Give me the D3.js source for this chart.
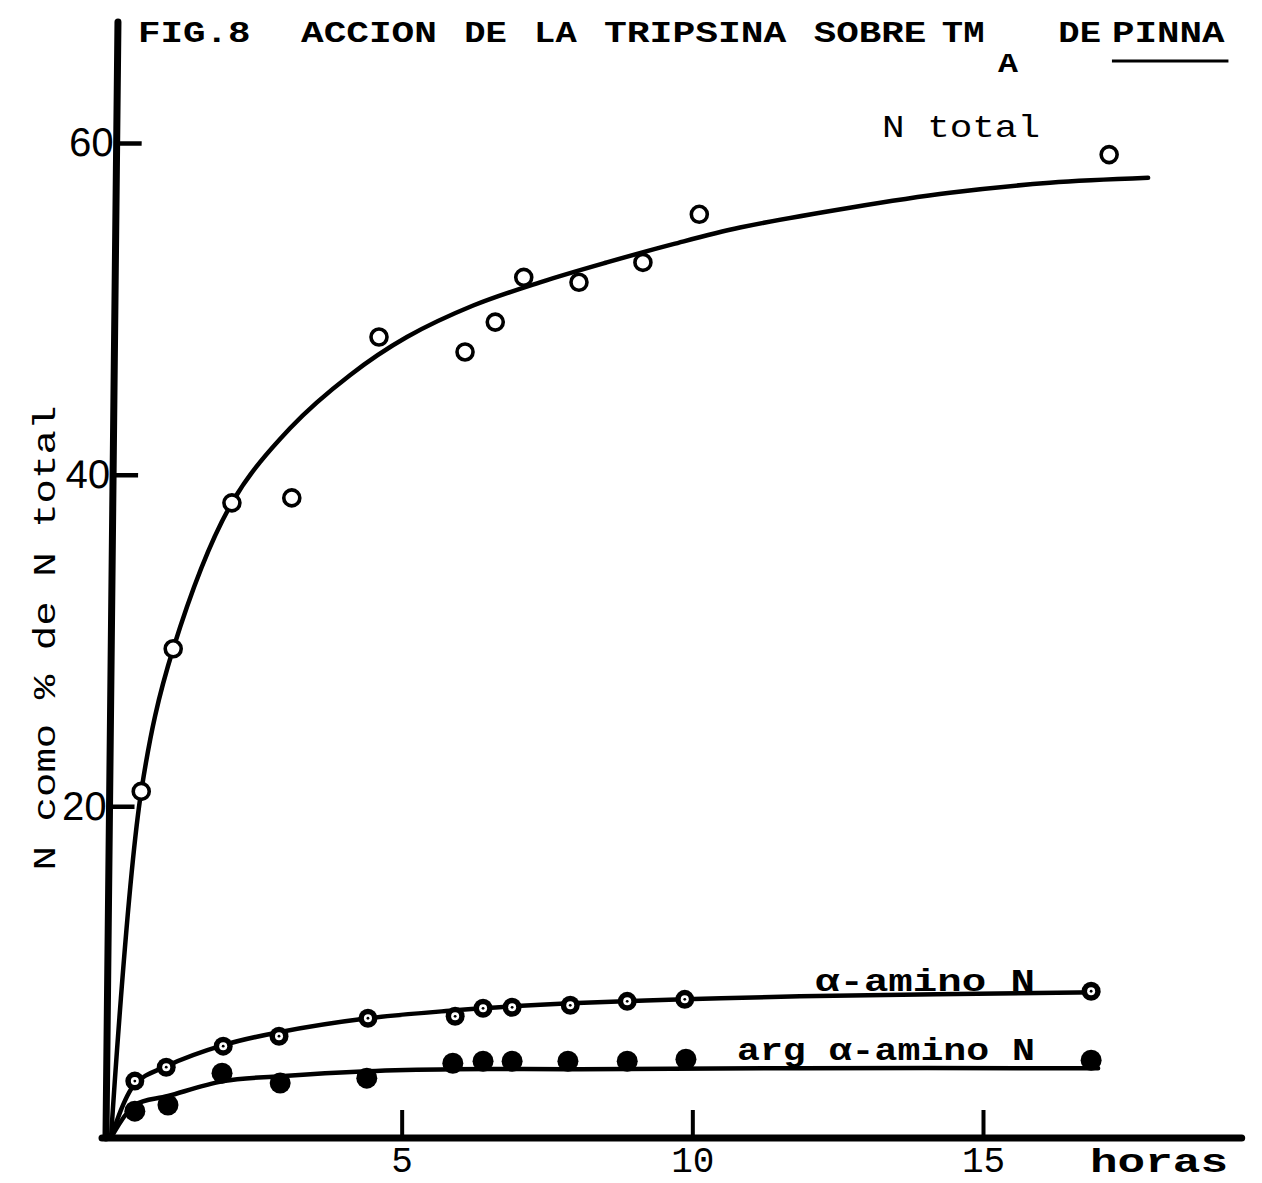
<!DOCTYPE html>
<html>
<head>
<meta charset="utf-8">
<script src="https://cdn.jsdelivr.net/npm/d3@7"></script>
<style>
  body { margin: 0; background: #fff; }
  svg { display: block; }
</style>
</head>
<body>
<svg id="chart" width="1262" height="1183"></svg>
<script>
// Trypsin digestion of TM_A from Pinna: nitrogen released (% of total N) vs hours
const totalHours = [0.52, 1.07, 2.08, 3.11, 4.61, 6.09, 6.61, 7.1, 8.05, 9.15, 10.12, 17.17];
const totalN     = [20.9, 29.5, 38.3, 38.6, 48.3, 47.4, 49.2, 51.9, 51.6, 52.8, 55.7, 59.3];

const aminoHours = [0.41, 0.95, 1.93, 2.89, 4.42, 5.92, 6.4, 6.9, 7.9, 8.88, 9.87, 16.86];
const aminoN     = [3.43, 4.27, 5.54, 6.14, 7.22, 7.34, 7.82, 7.88, 8.0, 8.24, 8.36, 8.85];

const argHours   = [0.41, 0.98, 1.91, 2.91, 4.4, 5.88, 6.4, 6.9, 7.86, 8.88, 9.89, 16.86];
const argN       = [1.62, 1.99, 3.91, 3.31, 3.61, 4.51, 4.63, 4.63, 4.63, 4.63, 4.75, 4.69];

// Hand-fitted smooth curves through each series
const totalCurveHours = [0, 0.52, 1.07, 2.08, 3.08, 4.11, 5.09, 6.23, 7.38, 8.53, 9.67, 10.82, 12.71, 14.43, 16.15, 17.84];
const totalCurveN     = [0, 20.9, 29.5, 38.3, 42.8, 46.0, 48.3, 50.2, 51.6, 52.8, 53.9, 54.9, 56.1, 57.0, 57.6, 57.9];

const aminoCurveHours = [0, 0.41, 0.95, 1.93, 2.89, 4.42, 5.92, 6.9, 7.9, 9.87, 11.85, 16.98];
const aminoCurveN     = [0, 3.25, 4.33, 5.6, 6.38, 7.22, 7.7, 7.94, 8.12, 8.36, 8.55, 8.79];

const argCurveHours = [0, 0.41, 0.98, 1.93, 2.91, 4.4, 5.88, 8.07, 11.85, 16.98];
const argCurveN     = [0, 1.99, 2.53, 3.43, 3.73, 4.03, 4.15, 4.15, 4.21, 4.21];

const xTicks = [5, 10, 15];
const yTicks = [20, 40, 60];

const titleWords = ["FIG.8", "ACCION", "DE", "LA", "TRIPSINA", "SOBRE", "TM", "DE", "PINNA"];
const titleSub = "A";
const yLabel = "N como % de N total";
const xLabel = "horas";
const seriesLabels = ["N total", "\u03b1-amino N", "arg \u03b1-amino N"];

// ---------------------------------------------------------------
const svg = d3.select("#chart");
const ink = "#000";
const typeFont = "'Liberation Mono', 'DejaVu Sans Mono', monospace";
const sansFont = "'Liberation Sans', Arial, sans-serif";

const x = d3.scaleLinear().domain([0, 15]).range([111, 983]);
const y = d3.scaleLinear().domain([0, 60]).range([1138, 143]);

const zip = (a, b) => a.map((v, i) => [v, b[i]]);

// x axis: long baseline, ticks pointing up
svg.append("line")
  .attr("x1", 102).attr("x2", x(19.45))
  .attr("y1", y(0)).attr("y2", y(0))
  .attr("stroke", ink).attr("stroke-width", 7).attr("stroke-linecap", "round");

const xAxis = svg.append("g")
  .attr("transform", `translate(0,${y(0)})`)
  .call(d3.axisBottom(x).tickValues(xTicks).tickSize(-28).tickSizeOuter(0).tickPadding(8)
    .tickFormat(d3.format("d")));
xAxis.select(".domain").remove();
xAxis.selectAll(".tick line").attr("stroke", ink).attr("stroke-width", 4);
xAxis.selectAll(".tick text")
  .attr("font-family", typeFont).attr("font-size", 36).attr("fill", ink)
  .attr("dy", "0.72em");

svg.append("text")
  .attr("x", 1090).attr("y", 1172)
  .attr("font-family", typeFont).attr("font-weight", "bold").attr("font-size", 34)
  .attr("textLength", 138).attr("lengthAdjust", "spacingAndGlyphs")
  .attr("fill", ink).text(xLabel);

// y axis: slightly leaning hand-ruled line, ticks pointing right
const lean = -0.616;
const yAxis = svg.append("g")
  .attr("transform", `translate(118.2,0) skewX(${lean})`);
yAxis.append("line")
  .attr("x1", 0).attr("x2", 0).attr("y1", y(0)).attr("y2", 22)
  .attr("stroke", ink).attr("stroke-width", 7).attr("stroke-linecap", "round");
yAxis.call(d3.axisLeft(y).tickValues(yTicks).tickSize(-25).tickSizeOuter(0).tickPadding(3)
  .tickFormat(d3.format("d")));
yAxis.select(".domain").remove();
yAxis.selectAll(".tick line").attr("stroke", ink).attr("stroke-width", 4.5);
yAxis.selectAll(".tick text")
  .attr("font-family", sansFont).attr("font-size", 40).attr("fill", ink);

svg.append("text")
  .attr("transform", "translate(55,638) rotate(-90)")
  .attr("text-anchor", "middle")
  .attr("font-family", typeFont).attr("font-size", 32)
  .attr("textLength", 465).attr("lengthAdjust", "spacingAndGlyphs")
  .attr("fill", ink).text(yLabel);

// fitted curves
const line = d3.line().x(d => x(d[0])).y(d => y(d[1])).curve(d3.curveCatmullRom.alpha(0.5));
[[totalCurveHours, totalCurveN], [aminoCurveHours, aminoCurveN], [argCurveHours, argCurveN]]
  .forEach(([h, v]) => {
    svg.append("path")
      .datum(zip(h, v))
      .attr("d", line)
      .attr("fill", "none").attr("stroke", ink).attr("stroke-width", 4.5)
      .attr("stroke-linecap", "round").attr("stroke-linejoin", "round");
  });

// N total: open circles
svg.append("g").selectAll("circle")
  .data(zip(totalHours, totalN)).join("circle")
  .attr("cx", d => x(d[0])).attr("cy", d => y(d[1])).attr("r", 8)
  .attr("fill", "#fff").attr("stroke", ink).attr("stroke-width", 3.6);

// alpha-amino N: ringed dots
const amino = svg.append("g").selectAll("g")
  .data(zip(aminoHours, aminoN)).join("g")
  .attr("transform", d => `translate(${x(d[0])},${y(d[1])})`);
amino.append("circle").attr("r", 9.5).attr("fill", ink);
amino.append("circle").attr("r", 4).attr("fill", "#fff");
amino.append("circle").attr("r", 1.4).attr("fill", ink);

// arg alpha-amino N: filled dots
svg.append("g").selectAll("circle")
  .data(zip(argHours, argN)).join("circle")
  .attr("cx", d => x(d[0])).attr("cy", d => y(d[1])).attr("r", 10.5)
  .attr("fill", ink);

// series labels
const labelSpec = [
  { text: seriesLabels[0], x: 882, y: 137, len: 158, weight: "normal" },
  { text: seriesLabels[1], x: 815, y: 991, len: 220, weight: "bold" },
  { text: seriesLabels[2], x: 737, y: 1060, len: 298, weight: "bold" }
];
labelSpec.forEach(s => {
  svg.append("text")
    .attr("x", s.x).attr("y", s.y)
    .attr("font-family", typeFont).attr("font-size", 32).attr("font-weight", s.weight)
    .attr("textLength", s.len).attr("lengthAdjust", "spacingAndGlyphs")
    .attr("fill", ink).text(s.text);
});

// title, typed at a fixed pitch
const pitch = 23.3, titleLeft = 138, titleBase = 42;
const titleCols = [0, 7, 14, 17, 20, 29, 34.5, 39.5, 41.8];
titleWords.forEach((w, i) => {
  svg.append("text")
    .attr("x", titleLeft + titleCols[i] * pitch).attr("y", titleBase)
    .attr("font-family", typeFont).attr("font-weight", "bold").attr("font-size", 29)
    .attr("textLength", w.length * pitch - 4).attr("lengthAdjust", "spacingAndGlyphs")
    .attr("fill", ink).text(w);
});
svg.append("text")
  .attr("x", 998).attr("y", 72)
  .attr("font-family", typeFont).attr("font-weight", "bold").attr("font-size", 28)
  .attr("textLength", 20).attr("lengthAdjust", "spacingAndGlyphs")
  .attr("fill", ink).text(titleSub);
const pinnaX = titleLeft + titleCols[8] * pitch;
svg.append("line")
  .attr("x1", pinnaX).attr("x2", pinnaX + 5 * pitch)
  .attr("y1", 61).attr("y2", 61)
  .attr("stroke", ink).attr("stroke-width", 3);
</script>
</body>
</html>
